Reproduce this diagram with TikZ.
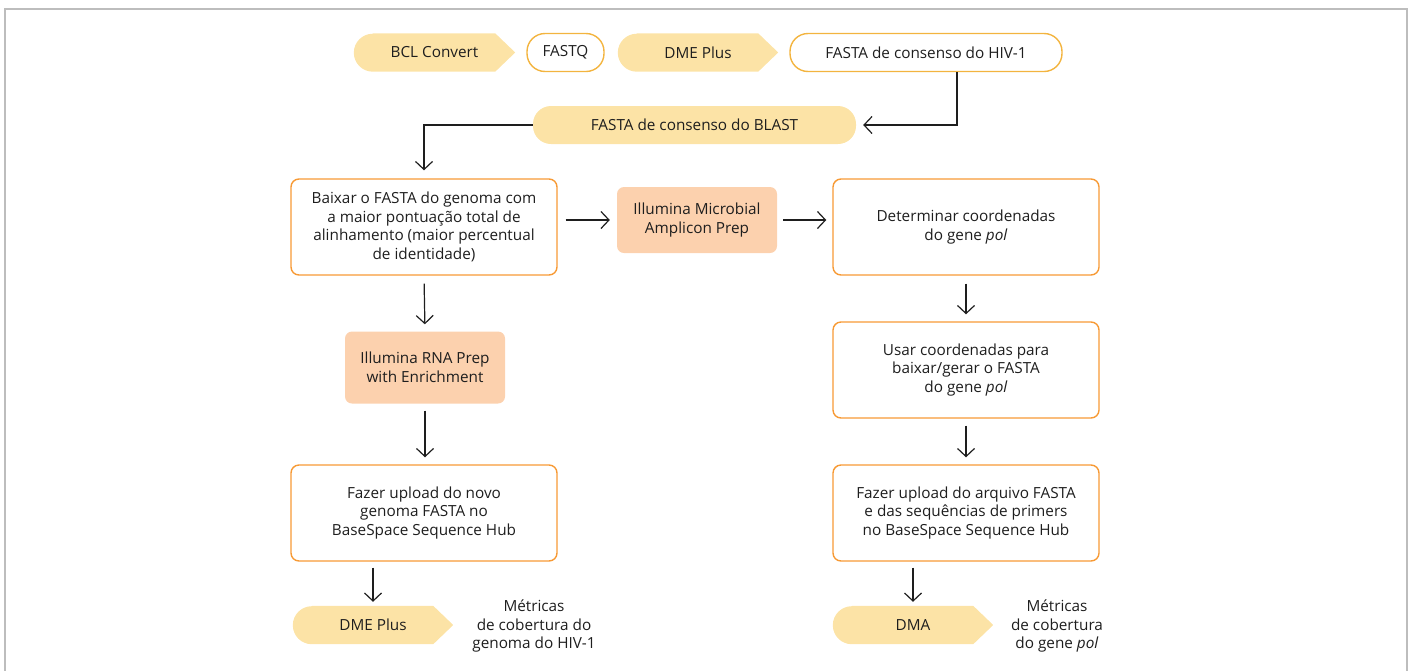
\documentclass[tikz,border=0pt]{standalone}
\usepackage{fontspec}
\setmainfont{Open Sans}
\usetikzlibrary{arrows.meta,backgrounds}
\definecolor{tagfill}{HTML}{FCE3A6}
\definecolor{gold}{HTML}{F3B43F}
\definecolor{orng}{HTML}{F79A35}
\definecolor{peach}{HTML}{FCD1AE}
\definecolor{frame}{HTML}{BDBDBD}
\definecolor{ink}{HTML}{1E1E1E}
\tikzset{
  base/.style={font=\fontsize{15.3}{18.6}\selectfont, text=ink, align=center, inner sep=0pt},
  tagnode/.style={base, minimum height=38pt},
  pill/.style={base, draw=gold, line width=1.4pt, rounded corners=18pt, minimum height=38pt},
  pillfill/.style={base, fill=tagfill, rounded corners=18pt, minimum height=38pt},
  box/.style={base, draw=orng, line width=1.4pt, rounded corners=8pt, minimum width=266pt, minimum height=96pt},
  kit/.style={base, fill=peach, rounded corners=7pt, minimum width=160pt},
  note/.style={base},
  arr/.style={draw=ink, line width=1.2pt, -{Straight Barb[length=8pt,width=17pt,line width=1.2pt]}},
}
\newcommand\tagshape[1]{\fill[tagfill] ([xshift=19pt]#1.north west) -- ([xshift=-20pt]#1.north east) -- (#1.east) -- ([xshift=-20pt]#1.south east) -- ([xshift=19pt]#1.south west) arc[start angle=270, end angle=90, radius=19pt] -- cycle;}
\begin{document}
\begin{tikzpicture}[x=1pt,y=-1pt]
\useasboundingbox (0,0) rectangle (1410,670);
\draw[frame, line width=2pt] (5,672) -- (5,9) -- (1407,9) -- (1407,672);

% top row
\node[tagnode, minimum width=161pt] (bcl) at (434.5,52.5) {BCL Convert};
\node[pill, minimum width=77pt] (fastq) at (565.5,52.5) {FASTQ};
\node[tagnode, minimum width=160pt] (dme1) at (698,52.5) {DME Plus};
\node[pill, minimum width=272pt] (hiv) at (926,52.5) {FASTA de consenso do HIV-1};
\node[pillfill, minimum width=323pt] (blast) at (694.5,125) {FASTA de consenso do BLAST};

% left column
\node[box] (baixar) at (424,227) {Baixar o FASTA do genoma com\\a maior pontuação total de\\alinhamento (maior percentual\\de identidade)};
\node[kit, minimum height=72pt] (rna) at (425,367.5) {Illumina RNA Prep\\with Enrichment};
\node[box] (upl1) at (424,513) {Fazer upload do novo\\genoma FASTA no\\BaseSpace Sequence Hub};
\node[tagnode, minimum width=160pt] (dme2) at (373,625) {DME Plus};
\node[note] (met1) at (534,626) {Métricas\\de cobertura do\\genoma do HIV-1};

% middle
\node[kit, minimum height=66pt] (micro) at (697,220) {Illumina Microbial\\Amplicon Prep};

% right column
\node[box] (det) at (966,227) {Determinar coordenadas\\do gene \textit{pol}};
\node[box] (usar) at (966,370) {Usar coordenadas para\\baixar/gerar o FASTA\\do gene \textit{pol}};
\node[box] (upl2) at (966,513) {Fazer upload do arquivo FASTA\\e das sequências de primers\\no BaseSpace Sequence Hub};
\node[tagnode, minimum width=160pt] (dma) at (913,625) {DMA};
\node[note] (met2) at (1057,626) {Métricas\\de cobertura\\do gene \textit{pol}};

\begin{pgfonlayer}{background}
\tagshape{bcl}
\tagshape{dme1}
\tagshape{dme2}
\tagshape{dma}
\end{pgfonlayer}

% connectors
\draw[arr, shorten >=7pt] ([xshift=31pt]hiv.south) |- (blast.east);
\draw[arr, shorten >=8pt] (blast.west) -| (baixar.north);
\draw[arr, shorten <=8pt, shorten >=7pt] (micro.west -| baixar.east) -- (micro.west);
\draw[arr, shorten <=6pt, shorten >=6pt] (micro.east) -- (micro.east -| det.west);
\draw[arr, shorten <=8pt, shorten >=7pt] (baixar.south) -- (rna.north);
\draw[arr, shorten <=7pt, shorten >=7pt] (rna.south) -- (rna.south |- upl1.north);
\draw[arr, shorten <=6pt, shorten >=4pt] (dme2.north |- upl1.south) -- (dme2.north);
\draw[arr, shorten <=8pt, shorten >=7pt] (det.south) -- (usar.north);
\draw[arr, shorten <=7pt, shorten >=7pt] (usar.south) -- (upl2.north);
\draw[arr, shorten <=6pt, shorten >=4pt] (dma.north |- upl2.south) -- (dma.north);
\end{tikzpicture}
\end{document}
